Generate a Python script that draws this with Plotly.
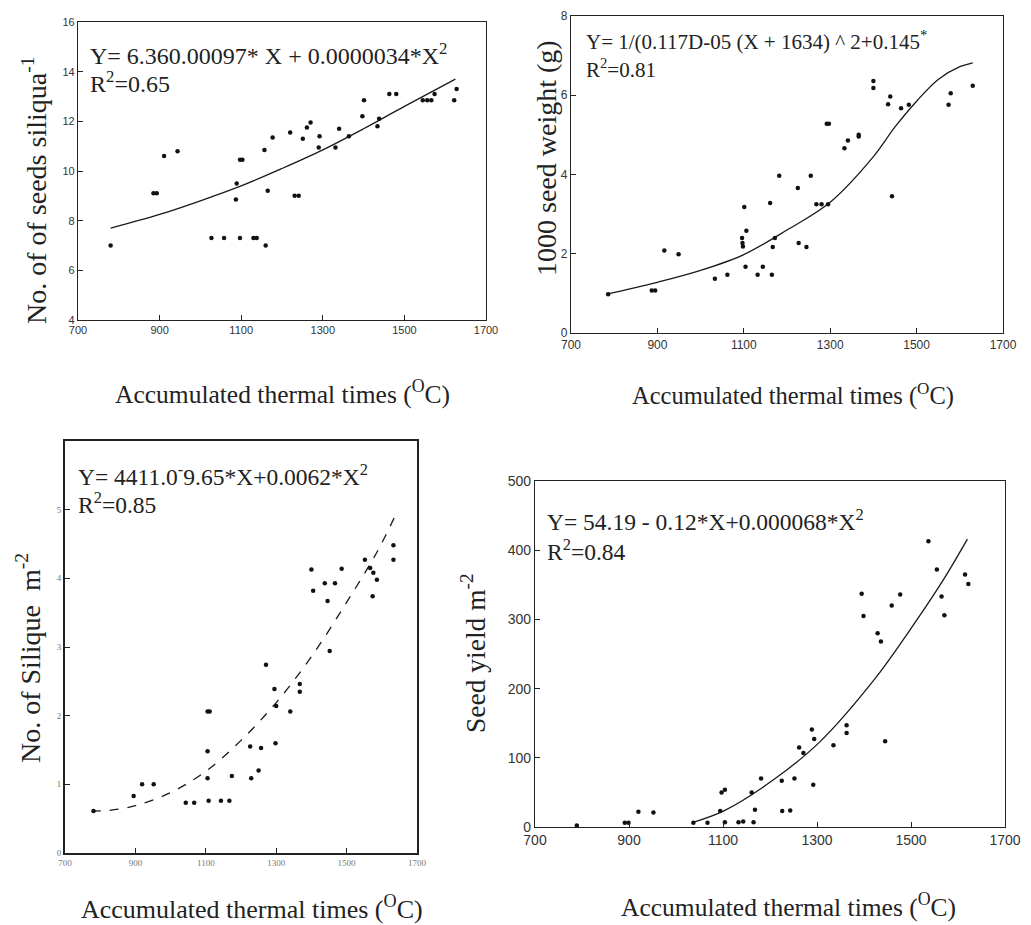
import plotly.graph_objects as go

W, H = 1031, 925

# ---------------- data ----------------
# Panel 1: No. of seeds siliqua-1
p1_x = [780, 885, 893, 911, 944, 1027, 1058, 1097, 1130, 1160, 1087, 1089, 1097, 1103, 1157,
        1165, 1177, 1220, 1231, 1241, 1251, 1261, 1270, 1292, 1290, 1331, 1340, 1364, 1397, 1401,
        1434, 1438, 1463, 1480, 1545, 1566, 1574, 1622, 1628, 1138, 1556]
p1_y = [7.0, 9.1, 9.1, 10.6, 10.8, 7.3, 7.3, 7.3, 7.3, 7.0, 8.85, 9.5, 10.45, 10.45, 10.85,
        9.2, 11.35, 11.55, 9.0, 9.0, 11.3, 11.75, 11.95, 11.4, 10.95, 10.95, 11.7, 11.4, 12.2, 12.85,
        11.8, 12.1, 13.1, 13.1, 12.85, 12.85, 13.1, 12.85, 13.3, 7.3, 12.85]
c1_x = [780, 900, 1000, 1100, 1200, 1300, 1400, 1500, 1625]
c1_y = [7.7, 8.25, 8.8, 9.4, 10.1, 10.85, 11.7, 12.6, 13.7]

# Panel 2: 1000 seed weight (g)
p2_x = [786, 887, 895, 916, 949, 1033, 1062, 1096, 1097, 1098, 1101, 1106, 1104, 1132, 1144,
        1161, 1165, 1167, 1172, 1182, 1225, 1227, 1245, 1255, 1268, 1280, 1295, 1297, 1333, 1341,
        1366, 1366, 1400, 1400, 1434, 1439, 1443, 1464, 1482, 1574, 1579, 1630, 1292]
p2_y = [0.98, 1.07, 1.07, 2.08, 1.99, 1.37, 1.47, 2.4, 2.27, 2.18, 3.18, 2.58, 1.67, 1.47, 1.67,
        3.28, 1.47, 2.17, 2.4, 3.97, 3.66, 2.27, 2.17, 3.97, 3.25, 3.25, 3.25, 5.28, 4.66, 4.86,
        5.0, 4.96, 6.18, 6.36, 5.77, 5.97, 3.45, 5.67, 5.76, 5.76, 6.05, 6.24, 5.28]
c2_x = [782, 900, 1000, 1100, 1200, 1300, 1400, 1450, 1500, 1550, 1600, 1630]
c2_y = [0.98, 1.28, 1.58, 1.98, 2.6, 3.3, 4.45, 5.2, 5.85, 6.4, 6.72, 6.82]

# Panel 3: No. of Silique m-2
p3_x = [781, 895, 919, 952, 1043, 1067, 1108, 1143, 1167, 1105, 1105, 1105, 1111, 1174, 1226,
        1229, 1250, 1257, 1271, 1295, 1298, 1300, 1340, 1367, 1367, 1400, 1405, 1438, 1446, 1452,
        1467, 1486, 1552, 1567, 1576, 1586, 1574, 1633, 1633]
p3_y = [0.61, 0.83, 1.0, 1.0, 0.73, 0.73, 0.76, 0.76, 0.76, 1.09, 1.48, 2.06, 2.06, 1.12, 1.55,
        1.09, 1.2, 1.53, 2.74, 2.39, 1.6, 2.14, 2.06, 2.46, 2.35, 4.13, 3.82, 3.93, 3.67, 2.94,
        3.93, 4.14, 4.27, 4.15, 4.08, 3.98, 3.74, 4.48, 4.27]
c3_x = [776, 824, 900, 1000, 1100, 1200, 1300, 1400, 1500, 1586, 1636]
c3_y = [0.61, 0.62, 0.69, 0.88, 1.19, 1.64, 2.19, 2.86, 3.65, 4.38, 4.89]

# Panel 4: Seed yield m-2
p4_x = [789, 891, 899, 920, 952, 1037, 1067, 1094, 1097, 1104, 1104, 1133, 1143, 1165, 1161,
        1168, 1181, 1225, 1226, 1243, 1252, 1262, 1271, 1289, 1292, 1294, 1335, 1363, 1363, 1395,
        1399, 1429, 1436, 1445, 1459, 1477, 1537, 1555, 1565, 1571, 1615, 1622]
p4_y = [2, 6, 6, 22, 21, 6, 6, 23, 50, 54, 7, 7, 8, 7, 50,
        25, 70, 67, 23, 24, 70, 115, 107, 141, 61, 127, 118, 147, 136, 337,
        305, 280, 268, 124, 320, 336, 413, 372, 333, 306, 365, 351]
c4_x = [1033, 1104, 1211, 1306, 1423, 1494, 1565, 1620]
c4_y = [6, 24, 70, 123, 214, 281, 353, 416]

x_ticks = [700, 900, 1100, 1300, 1500, 1700]
y1_ticks = [4, 6, 8, 10, 12, 14, 16]
y2_ticks = [0, 2, 4, 6, 8]
y3_ticks = [0, 1, 2, 3, 4, 5]
y4_ticks = [0, 100, 200, 300, 400, 500]

x_title = "Accumulated thermal times (<sup>O</sup>C)"

# ---------------- layout helpers ----------------
def xdom(l, r):
    return [l / W, r / W]

def ydom(t, b):
    return [1 - b / H, 1 - t / H]

def px(x):
    return x / W

def py(y):
    return 1 - y / H

SERIF = "Liberation Serif, Times New Roman, serif"
SANS = "Liberation Sans, Arial, sans-serif"

fig = go.Figure()

panels = [
    (p1_x, p1_y, c1_x, c1_y, "solid", ""),
    (p2_x, p2_y, c2_x, c2_y, "solid", "2"),
    (p3_x, p3_y, c3_x, c3_y, "dash", "3"),
    (p4_x, p4_y, c4_x, c4_y, "solid", "4"),
]
for xs, ys, cx, cy, dash, s in panels:
    fig.add_trace(go.Scatter(x=cx, y=cy, mode="lines",
                             line=dict(color="#1a1a1a", width=1.3, dash=dash, shape="spline"),
                             xaxis="x" + s, yaxis="y" + s, showlegend=False, hoverinfo="skip"))
    fig.add_trace(go.Scatter(x=xs, y=ys, mode="markers", marker=dict(color="#111", size=4.5),
                             xaxis="x" + s, yaxis="y" + s, showlegend=False))

def xaxis(dom, anchor, lw=1.3, fsize=11, fcolor="#333", font=SANS):
    return dict(domain=dom, anchor=anchor, range=[700, 1700], tickvals=x_ticks, ticks="inside", ticklen=5,
                tickcolor="#222", showline=True, mirror=True, linecolor="#222", linewidth=lw, showgrid=False,
                zeroline=False, automargin=False, tickfont=dict(family=font, size=fsize, color=fcolor))

def yaxis(dom, anchor, rng, tv, lw=1.3, fsize=11, fcolor="#333", font=SANS):
    return dict(domain=dom, anchor=anchor, range=rng, tickvals=tv, ticks="inside", ticklen=5,
                tickcolor="#222", showline=True, mirror=True, linecolor="#222", linewidth=lw, showgrid=False,
                zeroline=False, automargin=False, tickfont=dict(family=font, size=fsize, color=fcolor))

fig.update_layout(
    width=W, height=H, margin=dict(l=0, r=0, t=0, b=0, autoexpand=False),
    paper_bgcolor="white", plot_bgcolor="white",
    xaxis=xaxis(xdom(70, 478), "y", fsize=11),
    yaxis=yaxis(ydom(14, 312), "x", [4, 16], y1_ticks, fsize=11),
    xaxis2=xaxis(xdom(563, 995), "y2", fsize=12),
    yaxis2=yaxis(ydom(8, 325), "x2", [0, 8], y2_ticks, fsize=12),
    xaxis3=xaxis(xdom(57, 409), "y3", lw=2, fsize=9, fcolor="#777", font=SERIF),
    yaxis3=yaxis(ydom(433, 845), "x3", [0, 6], y3_ticks, lw=2, fsize=9, fcolor="#777", font=SERIF),
    xaxis4=xaxis(xdom(527, 997), "y4", fsize=14),
    yaxis4=yaxis(ydom(473, 819), "x4", [0, 500], y4_ticks, fsize=14),
)

ann = []
def text(x, y, t, size, angle=0, xanchor="center"):
    ann.append(dict(x=px(x), y=py(y), xref="paper", yref="paper", text=t, showarrow=False,
                    font=dict(family=SERIF, size=size, color="#222"), textangle=angle,
                    xanchor=xanchor, yanchor="middle"))

# equations
text(80, 46, "Y= 6.360.00097* X + 0.0000034*X<sup>2</sup>", 24, xanchor="left")
text(80, 74, "R<sup>2</sup>=0.65", 24, xanchor="left")
text(576, 33, "Y= 1/(0.117D-05 (X + 1634) ^ 2+0.145<sup>*</sup>", 21, xanchor="left")
text(576, 61, "R<sup>2</sup>=0.81", 21, xanchor="left")
text(68, 467, "Y= 4411.0<sup>-</sup>9.65*X+0.0062*X<sup>2</sup>", 23.5, xanchor="left")
text(68, 495, "R<sup>2</sup>=0.85", 23.5, xanchor="left")
text(537, 512, "Y= 54.19 - 0.12*X+0.000068*X<sup>2</sup>", 23.5, xanchor="left")
text(537, 542, "R<sup>2</sup>=0.84", 23.5, xanchor="left")

# axis titles
text(274, 385, x_title, 25.5)
text(785, 387, x_title, 24.5)
text(244, 899, x_title, 26)
text(780, 897, x_title, 25.5)
text(26, 182, "No. of of seeds siliqua<sup>-1</sup>", 28, angle=-90)
text(538, 150, "1000 seed weight (g)", 28, angle=-90)
text(20, 650, "No. of Silique  m<sup>-2</sup>", 28, angle=-90)
text(465, 645, "Seed yield m<sup>-2</sup>", 27.5, angle=-90)

fig.update_layout(annotations=ann)
fig.write_html("out.html")
